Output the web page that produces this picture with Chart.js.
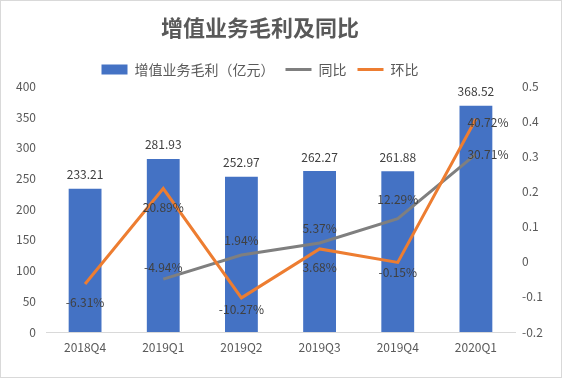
<!DOCTYPE html>
<html>
<head>
<meta charset="utf-8">
<script src="https://cdn.jsdelivr.net/npm/chart.js@4"></script>
<style>
  html, body { margin: 0; padding: 0; background: #fff; }
  #wrap { width: 562px; height: 378px; }
</style>
</head>
<body>
<div id="wrap"><canvas id="chart" width="562" height="378"></canvas></div>
<script>
const quarters = ['2018Q4', '2019Q1', '2019Q2', '2019Q3', '2019Q4', '2020Q1'];
const grossProfit = [233.21, 281.93, 252.97, 262.27, 261.88, 368.52];
const yoy = [null, -0.0494, 0.0194, 0.0537, 0.1229, 0.3071];
const qoq = [-0.0631, 0.2089, -0.1027, 0.0368, -0.0015, 0.4072];

// label nudges (px) for the percentage labels, as placed in the original
const yoyShift = [[0, 0], [0, -12], [0, -15], [0, -15], [0, -19], [12, 0]];
const qoqShift = [[0, 18], [0, 19], [0, 12], [0, 19], [0, 10], [12, 3]];

const FONT = '"Noto Sans CJK SC", "Noto Sans", sans-serif';
const textColor = '#595959';

const labelsPlugin = {
    id: 'valueLabels',
    afterUpdate(chart) {
        // title and legend sit a little left of centre in the original
        if (chart.titleBlock) chart.titleBlock.left -= 42;
        if (chart.legend) chart.legend.left -= 42;
    },
    beforeDraw(chart) {
        const c = chart.ctx;
        c.save();
        c.fillStyle = '#fff';
        c.fillRect(0, 0, chart.width, chart.height);
        c.strokeStyle = '#d9d9d9';
        c.lineWidth = 1;
        c.strokeRect(0.5, 0.5, chart.width - 1, chart.height - 1);
        c.restore();
    },
    afterDatasetsDraw(chart) {
        const c = chart.ctx;
        c.save();
        c.font = '12px ' + FONT;
        c.fillStyle = '#404040';
        c.textAlign = 'center';
        c.textBaseline = 'middle';

        chart.getDatasetMeta(0).data.forEach((bar, i) => {
            c.fillText(grossProfit[i].toFixed(2), bar.x, bar.y - 14);
        });

        const pct = (v) => (v * 100).toFixed(2) + '%';
        chart.getDatasetMeta(1).data.forEach((pt, i) => {
            if (yoy[i] === null) return;
            c.fillText(pct(yoy[i]), pt.x + yoyShift[i][0], pt.y + yoyShift[i][1]);
        });
        chart.getDatasetMeta(2).data.forEach((pt, i) => {
            c.fillText(pct(qoq[i]), pt.x + qoqShift[i][0], pt.y + qoqShift[i][1]);
        });
        c.restore();
    }
};

const ctx = document.getElementById('chart');
// eslint-disable-next-line no-undef
new Chart(ctx, {
    type: 'bar',
    data: {
        labels: quarters,
        datasets: [{
            type: 'bar',
            label: '增值业务毛利（亿元）',
            data: grossProfit,
            backgroundColor: '#4472C4',
            yAxisID: 'y',
            order: 2,
            categoryPercentage: 1,
            barPercentage: 0.42
        }, {
            type: 'line',
            label: '同比',
            data: yoy,
            borderColor: '#7F7F7F',
            backgroundColor: '#7F7F7F',
            borderWidth: 3,
            pointRadius: 0,
            tension: 0,
            yAxisID: 'y1',
            order: 1
        }, {
            type: 'line',
            label: '环比',
            data: qoq,
            borderColor: '#ED7D31',
            backgroundColor: '#ED7D31',
            borderWidth: 3,
            pointRadius: 0,
            tension: 0,
            yAxisID: 'y1',
            order: 0
        }]
    },
    options: {
        responsive: false,
        animation: false,
        events: [],
        layout: { padding: { top: 0, left: 0, right: 0, bottom: 22 } },
        plugins: {
            tooltip: { enabled: false },
            title: {
                display: true,
                text: '增值业务毛利及同比',
                color: textColor,
                font: { family: FONT, size: 22, weight: 'bold' },
                padding: { top: 14, bottom: 11 }
            },
            legend: {
                display: true,
                position: 'top',
                labels: {
                    color: textColor,
                    font: { family: FONT, size: 14 },
                    usePointStyle: true,
                    pointStyleWidth: 26,
                    boxHeight: 10,
                    padding: 11,
                    sort: (a, b) => a.datasetIndex - b.datasetIndex,
                    generateLabels(chart) {
                        // eslint-disable-next-line no-undef
                        const items = Chart.defaults.plugins.legend.labels.generateLabels(chart);
                        items.forEach((item) => {
                            if (item.datasetIndex === 0) {
                                item.pointStyle = 'rect';
                                item.lineWidth = 0;
                            } else {
                                item.pointStyle = 'line';
                                item.lineWidth = 3;
                            }
                        });
                        return items;
                    }
                }
            }
        },
        scales: {
            x: {
                grid: { display: false, drawTicks: false },
                border: { display: true, color: '#d9d9d9', width: 1 },
                ticks: { color: textColor, font: { family: FONT, size: 12 }, padding: 8 },
                afterFit: (s) => { s.height = 24; }
            },
            y: {
                position: 'left',
                min: 0,
                max: 400,
                grid: { display: false, drawTicks: false },
                border: { display: false },
                ticks: { stepSize: 50, color: textColor, font: { family: FONT, size: 12 }, padding: 10 },
                afterFit: (s) => { s.width = 46; }
            },
            y1: {
                position: 'right',
                min: -0.2,
                max: 0.5,
                grid: { display: false, drawTicks: false },
                border: { display: false },
                ticks: {
                    stepSize: 0.1,
                    color: textColor,
                    font: { family: FONT, size: 12 },
                    padding: 7,
                    callback: (v) => String(+v.toFixed(1))
                },
                afterFit: (s) => { s.width = 47; }
            }
        }
    },
    plugins: [labelsPlugin]
});
</script>
</body>
</html>
